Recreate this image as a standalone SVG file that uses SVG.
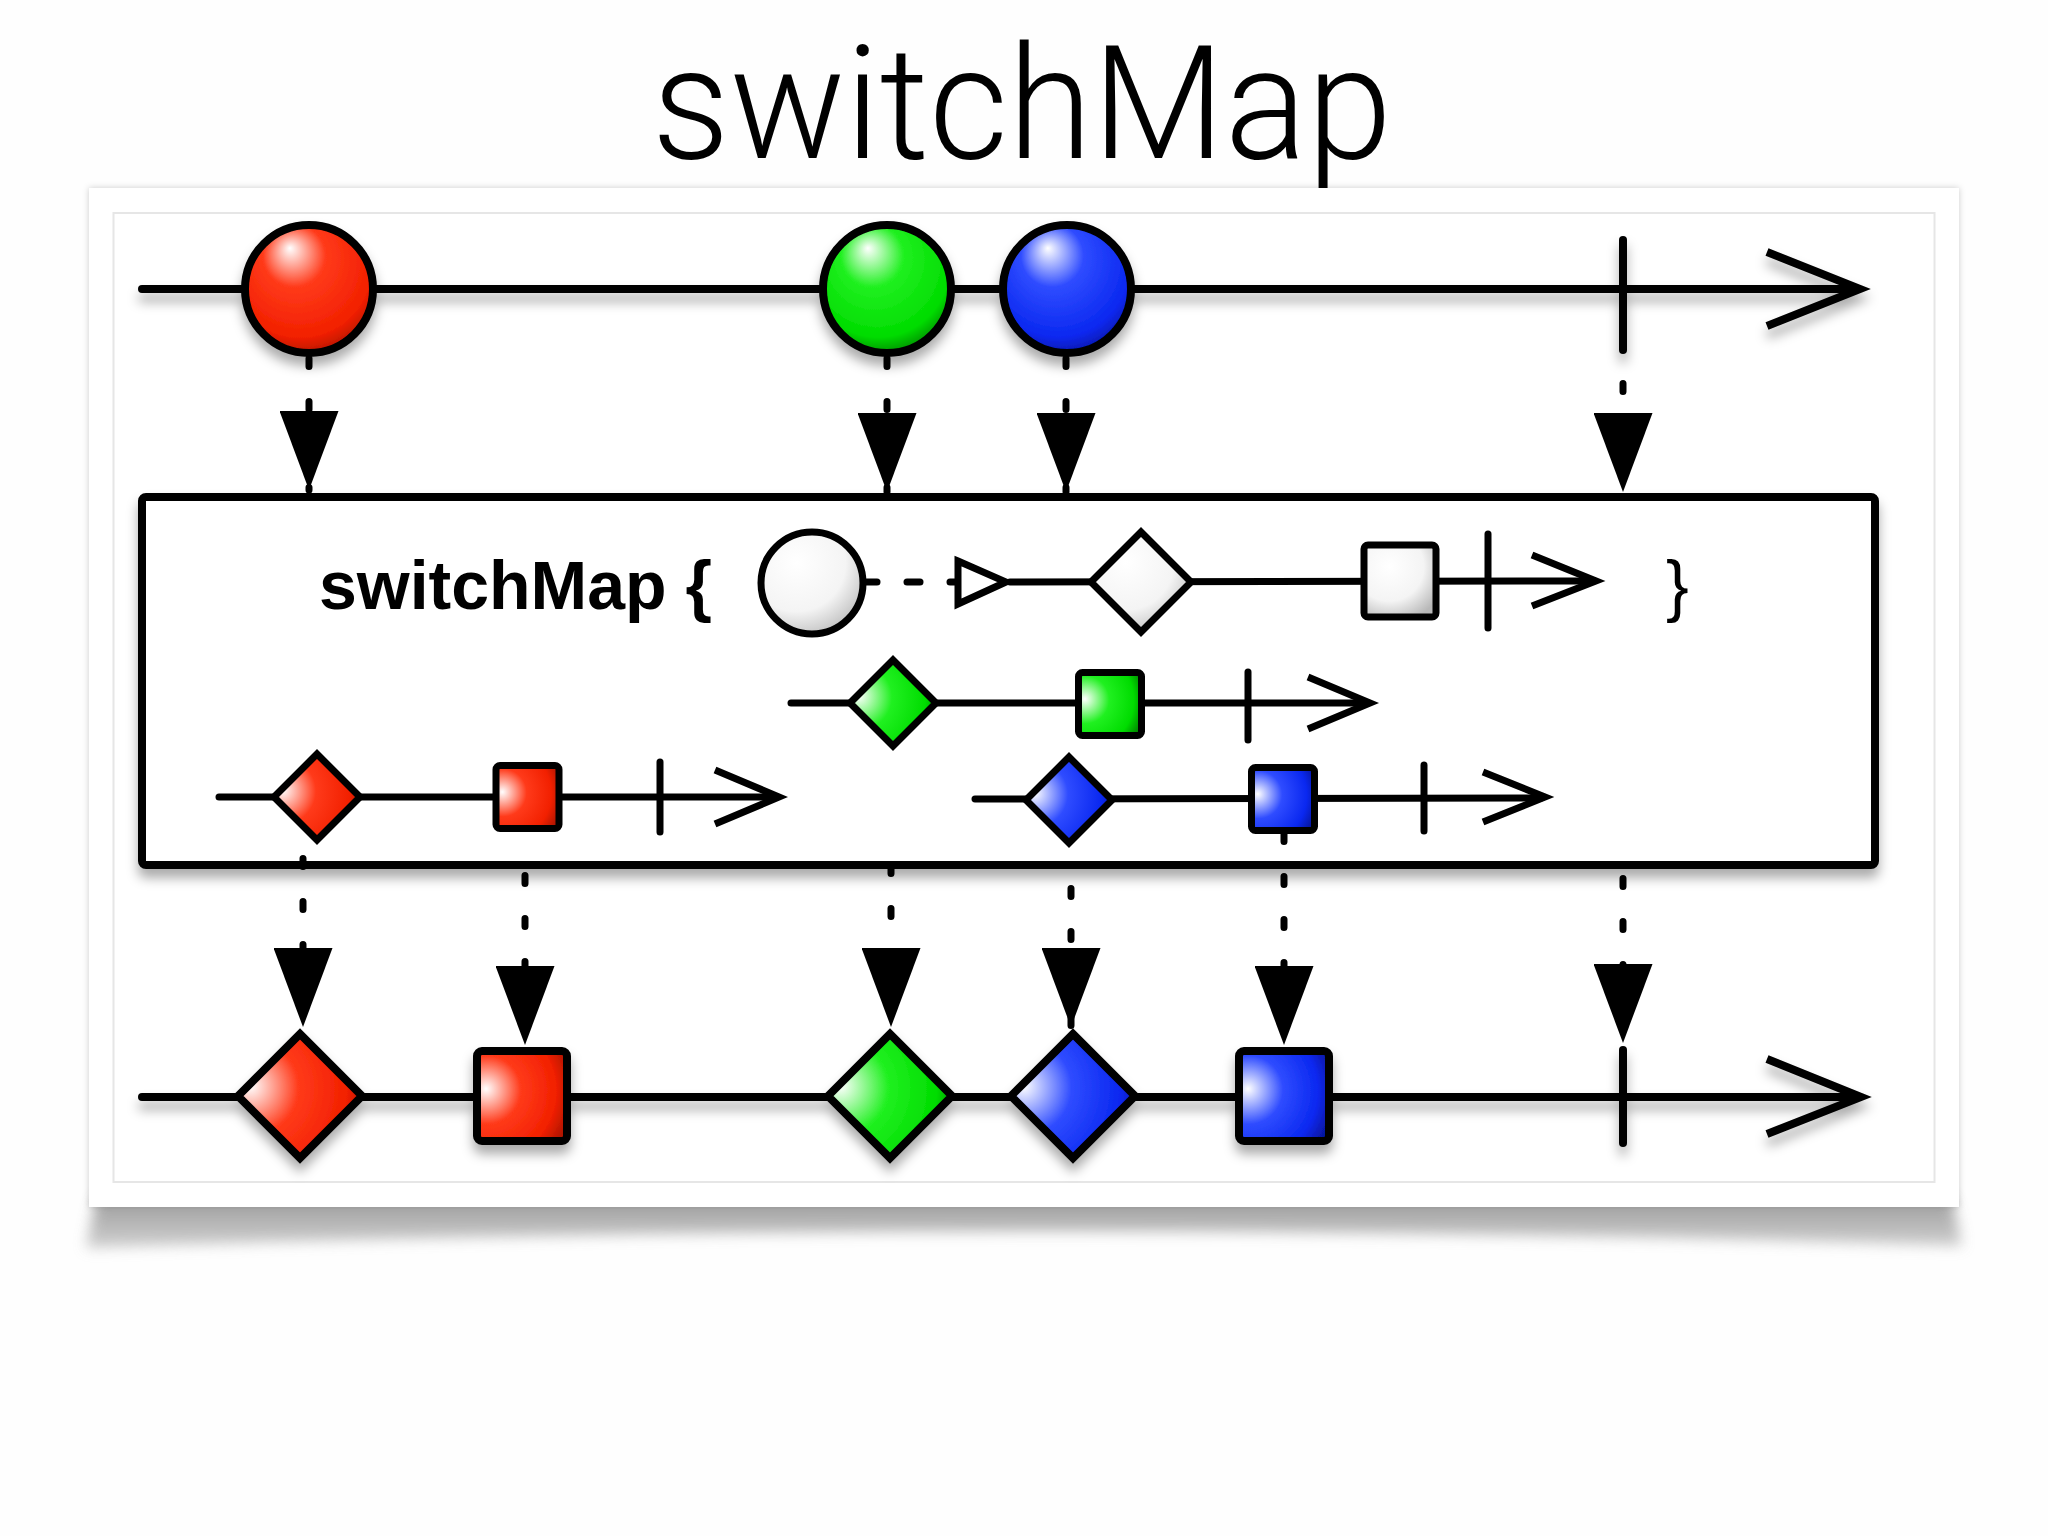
<svg xmlns="http://www.w3.org/2000/svg" width="2048" height="1536" viewBox="0 0 2048 1536">
<style>
.ln{fill:none;stroke:#000;stroke-width:8;stroke-linecap:round}
.il{fill:none;stroke:#000;stroke-width:7;stroke-linecap:round}
.arm{fill:none;stroke:#000;stroke-width:8;stroke-linejoin:miter;stroke-linecap:butt}
.iarm{fill:none;stroke:#000;stroke-width:7;stroke-linejoin:miter;stroke-linecap:butt}
.sh8{stroke:#000;stroke-width:8;stroke-linejoin:miter}
.sh7{stroke:#000;stroke-width:7;stroke-linejoin:miter}
.dash{fill:none;stroke:#000;stroke-width:7;stroke-linecap:round;stroke-dasharray:8 35;marker-end:url(#tri)}
.lbl{font-family:"Liberation Sans",Arial,sans-serif;fill:#000}
</style>
<defs>
<filter id="sh" filterUnits="userSpaceOnUse" x="0" y="0" width="2048" height="1536">
<feDropShadow dx="0" dy="9" stdDeviation="6" flood-color="#000" flood-opacity="0.33"/>
</filter>
<filter id="cardsh" filterUnits="userSpaceOnUse" x="0" y="0" width="2048" height="1536">
<feDropShadow dx="0" dy="0" stdDeviation="3" flood-color="#000" flood-opacity="0.2"/>
</filter>
<filter id="blur" filterUnits="userSpaceOnUse" x="0" y="0" width="2048" height="1536">
<feGaussianBlur stdDeviation="7"/>
</filter>
<marker id="tri" viewBox="0 0 79 59" refX="79" refY="29.5" markerWidth="79" markerHeight="59" markerUnits="userSpaceOnUse" orient="auto">
<path d="M0,0 L79,29.5 L0,59 Z" fill="#000"/>
</marker>
<radialGradient id="gRedBall" cx="0.45" cy="0.35" r="0.7" fx="0.35" fy="0.18">
<stop offset="0" stop-color="#ffffff"/><stop offset="0.35" stop-color="#ff3a1a"/><stop offset="0.8" stop-color="#f22000"/><stop offset="1" stop-color="#a81200"/>
</radialGradient>
<radialGradient id="gGreenBall" cx="0.45" cy="0.35" r="0.7" fx="0.35" fy="0.18">
<stop offset="0" stop-color="#ffffff"/><stop offset="0.35" stop-color="#20f020"/><stop offset="0.8" stop-color="#00dc00"/><stop offset="1" stop-color="#007a00"/>
</radialGradient>
<radialGradient id="gBlueBall" cx="0.45" cy="0.35" r="0.7" fx="0.35" fy="0.18">
<stop offset="0" stop-color="#ffffff"/><stop offset="0.35" stop-color="#2f4cff"/><stop offset="0.8" stop-color="#0a28f0"/><stop offset="1" stop-color="#04149a"/>
</radialGradient>
<radialGradient id="gRed" cx="0.12" cy="0.45" r="0.95" fx="0.1" fy="0.42">
<stop offset="0" stop-color="#ffffff"/><stop offset="0.4" stop-color="#ff3a1a"/><stop offset="0.8" stop-color="#f22000"/><stop offset="1" stop-color="#b01500"/>
</radialGradient>
<radialGradient id="gGreen" cx="0.12" cy="0.45" r="0.95" fx="0.1" fy="0.42">
<stop offset="0" stop-color="#ffffff"/><stop offset="0.4" stop-color="#20f020"/><stop offset="0.8" stop-color="#00dc00"/><stop offset="1" stop-color="#008800"/>
</radialGradient>
<radialGradient id="gBlue" cx="0.12" cy="0.45" r="0.95" fx="0.1" fy="0.42">
<stop offset="0" stop-color="#ffffff"/><stop offset="0.4" stop-color="#2f4cff"/><stop offset="0.8" stop-color="#0a28f0"/><stop offset="1" stop-color="#0616a0"/>
</radialGradient>
<radialGradient id="gWhite" cx="0.35" cy="0.3" r="0.8">
<stop offset="0" stop-color="#ffffff"/><stop offset="0.6" stop-color="#f4f4f4"/><stop offset="1" stop-color="#b8b8b8"/>
</radialGradient>
<linearGradient id="gShadow" x1="0" y1="0" x2="0" y2="1">
<stop offset="0" stop-color="#8c8c8c"/><stop offset="1" stop-color="#c8c8c8"/>
</linearGradient>
</defs>

<rect x="0" y="0" width="2048" height="1536" fill="#fefefe"/>

<text class="lbl" x="1022" y="158" font-weight="300" font-size="158" text-anchor="middle" textLength="740" lengthAdjust="spacingAndGlyphs" style="font-family:Roboto,'Liberation Sans',sans-serif">switchMap</text>

<g id="card">
<path d="M 96 1198 L 1952 1198 L 1962 1246 Q 1024 1216 86 1248 Z" fill="url(#gShadow)" opacity="0.85" filter="url(#blur)"/>
<rect x="89" y="188" width="1870" height="1019" fill="#ffffff" filter="url(#cardsh)"/>
<rect x="113.5" y="213" width="1821" height="969" fill="none" stroke="#e6e6e6" stroke-width="2"/>
</g>

<g id="source-timeline" filter="url(#sh)">
<line class="ln" x1="142" y1="289" x2="1855" y2="289"/>
<polyline class="arm" points="1767,252 1860,289 1767,326"/>
<line class="ln" x1="1623" y1="240" x2="1623" y2="350"/>
<g id="src-red"><circle cx="309" cy="289" r="64" fill="url(#gRedBall)" class="sh8"/></g>
<g id="src-green"><circle cx="887" cy="289" r="64" fill="url(#gGreenBall)" class="sh8"/></g>
<g id="src-blue"><circle cx="1067" cy="289" r="64" fill="url(#gBlueBall)" class="sh8"/></g>
</g>

<g id="operator-box">
<rect x="142" y="497" width="1733" height="368" rx="4" fill="#ffffff" stroke="#000" stroke-width="8" filter="url(#sh)"/>
<text class="lbl" x="319" y="609" font-size="68" font-weight="bold">switchMap {</text>
<text class="lbl" x="1666" y="609" font-size="68">}</text>
</g>

<g id="fn-template">
<line class="il" x1="862" y1="582" x2="877" y2="582"/>
<line class="il" x1="907" y1="582" x2="920" y2="582"/>
<line class="il" x1="950" y1="582" x2="958" y2="582"/>
<line class="il" x1="1010" y1="582" x2="1590" y2="581"/>
<circle cx="812" cy="583" r="51" fill="url(#gWhite)" class="sh7"/>
<polygon points="958,561 1006,582 958,604" fill="#ffffff" class="sh7"/>
<path d="M1091,582 L1141,532 L1191,582 L1141,632 Z" fill="url(#gWhite)" class="sh7"/>
<rect x="1364" y="545" width="72" height="72" rx="4" fill="url(#gWhite)" class="sh7"/>
<line class="il" x1="1488" y1="534" x2="1488" y2="628"/>
<polyline class="iarm" points="1532,555 1596,581 1532,606"/>
</g>

<g id="inner-red">
<line class="il" x1="219" y1="797" x2="776" y2="797"/>
<path d="M274,797 L317,754 L360,797 L317,840 Z" fill="url(#gRed)" class="sh7"/>
<rect x="496" y="765.5" width="63" height="63" rx="4" fill="url(#gRed)" class="sh7"/>
<line class="il" x1="660" y1="762" x2="660" y2="832"/>
<polyline class="iarm" points="715,770 779,797 715,824"/>
</g>

<g id="inner-green">
<line class="il" x1="791" y1="703" x2="1366" y2="703"/>
<path d="M850,703 L893,660 L936,703 L893,746 Z" fill="url(#gGreen)" class="sh7"/>
<rect x="1078.5" y="672.5" width="63" height="63" rx="4" fill="url(#gGreen)" class="sh7"/>
<line class="il" x1="1248" y1="672" x2="1248" y2="740"/>
<polyline class="iarm" points="1308,677 1370,703 1308,729"/>
</g>

<g id="inner-blue">
<line class="il" x1="975" y1="799" x2="1541" y2="798"/>
<path d="M1026,800 L1069,757 L1112,800 L1069,843 Z" fill="url(#gBlue)" class="sh7"/>
<rect x="1251.5" y="767.5" width="63" height="63" rx="4" fill="url(#gBlue)" class="sh7"/>
<line class="il" x1="1424" y1="765" x2="1424" y2="831"/>
<polyline class="iarm" points="1483,772 1545,797 1483,822"/>
</g>

<g id="connectors">
<line class="dash" x1="309" y1="358.5" x2="309" y2="490"/>
<line class="dash" x1="887" y1="358.5" x2="887" y2="492"/>
<line class="dash" x1="1066" y1="358.5" x2="1066" y2="492"/>
<line class="dash" x1="1623" y1="383.5" x2="1623" y2="492"/>
<line class="dash" x1="303" y1="858.5" x2="303" y2="1027"/>
<line class="dash" x1="525" y1="875.5" x2="525" y2="1045"/>
<line class="dash" x1="891" y1="865.5" x2="891" y2="1027"/>
<line class="dash" x1="1071" y1="888.5" x2="1071" y2="1027"/>
<line class="dash" x1="1284" y1="833.5" x2="1284" y2="1045"/>
<line class="dash" x1="1623" y1="878.5" x2="1623" y2="1043"/>
</g>

<g id="result-timeline" filter="url(#sh)">
<line class="ln" x1="142" y1="1097" x2="1856" y2="1097"/>
<polyline class="arm" points="1767,1059 1861,1097 1767,1134"/>
<line class="ln" x1="1623" y1="1050" x2="1623" y2="1143"/>
<g id="out-red-diamond"><path d="M238,1096 L300,1034 L362,1096 L300,1158 Z" fill="url(#gRed)" class="sh8"/></g>
<g id="out-red-square"><rect x="477" y="1051" width="90" height="90" rx="5" fill="url(#gRed)" class="sh8"/></g>
<g id="out-green-diamond"><path d="M828,1096 L890,1034 L952,1096 L890,1158 Z" fill="url(#gGreen)" class="sh8"/></g>
<g id="out-blue-diamond"><path d="M1011,1096 L1073,1034 L1135,1096 L1073,1158 Z" fill="url(#gBlue)" class="sh8"/></g>
<g id="out-blue-square"><rect x="1239" y="1051" width="90" height="90" rx="5" fill="url(#gBlue)" class="sh8"/></g>
</g>
</svg>
